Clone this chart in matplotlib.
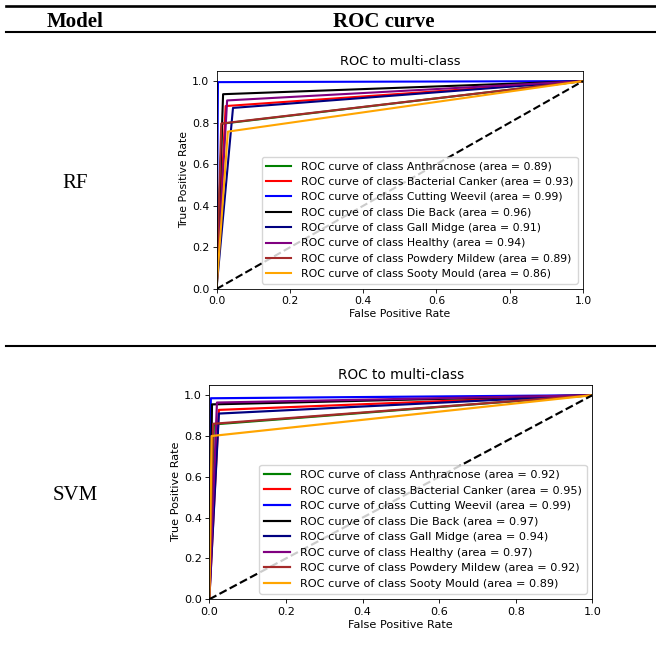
import matplotlib
matplotlib.use("Agg")
import matplotlib.pyplot as plt
from matplotlib.lines import Line2D

classes = ["Anthracnose", "Bacterial Canker", "Cutting Weevil", "Die Back",
           "Gall Midge", "Healthy", "Powdery Mildew", "Sooty Mould"]
colors = ["green", "red", "blue", "black", "navy", "purple", "brown", "orange"]

# RF: corner point of each ROC curve (curve runs 0,0 -> corner -> 1,1)
rf_fpr = [0.015, 0.025, 0.004, 0.018, 0.045, 0.029, 0.013, 0.031]
rf_tpr = [0.795, 0.880, 0.995, 0.937, 0.871, 0.907, 0.796, 0.757]
rf_auc = ["0.89", "0.93", "0.99", "0.96", "0.91", "0.94", "0.89", "0.86"]

# SVM
svm_fpr = [0.012, 0.025, 0.004, 0.007, 0.025, 0.020, 0.010, 0.006]
svm_tpr = [0.857, 0.928, 0.985, 0.955, 0.910, 0.964, 0.860, 0.800]
svm_auc = ["0.92", "0.95", "0.99", "0.97", "0.94", "0.97", "0.92", "0.89"]

W, H = 656, 648
fig = plt.figure(figsize=(W / 100, H / 100), dpi=100)

def fx(px):
    return px / W

def fy(py):
    return 1 - py / H

# table rules
for y, lw in [(5.5, 1.9), (32, 1.5), (345.7, 1.5)]:
    fig.add_artist(Line2D([fx(6), 1.0], [fy(y), fy(y)], transform=fig.transFigure,
                          color="black", linewidth=lw))

serif = ["Liberation Serif", "DejaVu Serif"]
fig.text(fx(75), fy(27), "Model", ha="center", va="baseline", fontsize=15,
         fontweight="bold", family=serif)
fig.text(fx(384), fy(27), "ROC curve", ha="center", va="baseline", fontsize=15,
         fontweight="bold", family=serif)
fig.text(fx(75), fy(188), "RF", ha="center", va="baseline", fontsize=15, family=serif)
fig.text(fx(75), fy(500), "SVM", ha="center", va="baseline", fontsize=15, family=serif)

def roc_panel(rect, fpr, tpr, auc, k):
    FS = 7.8 * k
    LW = 1.5 * k
    ax = fig.add_axes(rect)
    for name, c, f, t, a in zip(classes, colors, fpr, tpr, auc):
        ax.plot([0, f, 1], [0, t, 1], color=c, lw=LW,
                label=f"ROC curve of class {name} (area = {a})")
    ax.plot([0, 1], [0, 1], "k--", lw=LW)
    ax.set_xlim(0.0, 1.0)
    ax.set_ylim(0.0, 1.05)
    ax.set_xlabel("False Positive Rate", fontsize=FS, labelpad=2 * k)
    ax.set_ylabel("True Positive Rate", fontsize=FS, labelpad=2 * k)
    ax.set_title("ROC to multi-class", fontsize=9.4 * k, pad=4 * k)
    ax.tick_params(labelsize=FS, width=0.6 * k, length=2.6 * k, pad=2.5 * k)
    for s in ax.spines.values():
        s.set_linewidth(0.6 * k)
    ax.legend(loc="lower right", fontsize=FS, handlelength=2.3, borderpad=0.4,
              labelspacing=0.5, handletextpad=0.9, borderaxespad=0.5)
    return ax

roc_panel([fx(216.5), fy(289), fx(583) - fx(216.5), fy(70.7) - fy(289)],
          rf_fpr, rf_tpr, rf_auc, 1.0)
roc_panel([fx(209.3), fy(599.3), fx(592.3) - fx(209.3), fy(385) - fy(599.3)],
          svm_fpr, svm_tpr, svm_auc, 1.045)

fig.savefig("out.png", dpi=100)
